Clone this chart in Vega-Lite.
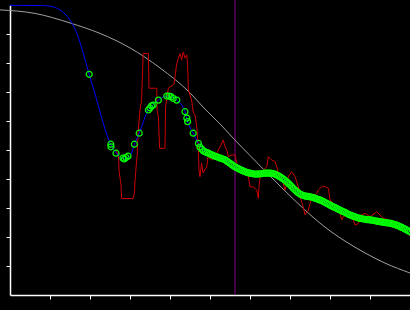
{
  "$schema": "https://vega.github.io/schema/vega-lite/v6.json",
  "width": 400,
  "height": 290,
  "autosize": {"type": "none"},
  "padding": {"left": 10, "top": 5, "right": 0, "bottom": 15},
  "background": "#000000",
  "config": {"view": {"stroke": null}},
  "datasets": {
    "gray": [
      {"x": -0.25, "y": 9.83}, {"x": 0.625, "y": 9.71}, {"x": 1.5, "y": 9.38}, {"x": 2.25, "y": 9.02},
      {"x": 3.0, "y": 8.52}, {"x": 3.75, "y": 7.83}, {"x": 4.5, "y": 6.97}, {"x": 4.875, "y": 6.41},
      {"x": 5.25, "y": 5.9}, {"x": 5.625, "y": 5.34}, {"x": 6.0, "y": 4.81}, {"x": 6.375, "y": 4.28},
      {"x": 6.875, "y": 3.59}, {"x": 7.375, "y": 2.93}, {"x": 7.875, "y": 2.34}, {"x": 8.375, "y": 1.86},
      {"x": 8.875, "y": 1.45}, {"x": 9.375, "y": 1.1}, {"x": 10.0, "y": 0.76}
    ],
    "red": [
      {"x": 2.66, "y": 5.0}, {"x": 2.675, "y": 4.9}, {"x": 2.71, "y": 4.83}, {"x": 2.73, "y": 4.25},
      {"x": 2.775, "y": 3.79}, {"x": 2.79, "y": 3.33}, {"x": 3.08, "y": 3.33}, {"x": 3.11, "y": 3.52},
      {"x": 3.125, "y": 3.91}, {"x": 3.15, "y": 4.38}, {"x": 3.18, "y": 4.83}, {"x": 3.2, "y": 5.59},
      {"x": 3.25, "y": 6.38}, {"x": 3.29, "y": 6.72}, {"x": 3.33, "y": 8.33}, {"x": 3.46, "y": 8.33},
      {"x": 3.475, "y": 7.13}, {"x": 3.67, "y": 7.13}, {"x": 3.675, "y": 6.38}, {"x": 3.71, "y": 6.15},
      {"x": 3.74, "y": 5.06}, {"x": 3.875, "y": 5.06}, {"x": 3.89, "y": 6.49}, {"x": 3.96, "y": 7.14},
      {"x": 4.05, "y": 7.21}, {"x": 4.1, "y": 7.28}, {"x": 4.17, "y": 7.99}, {"x": 4.21, "y": 8.17},
      {"x": 4.25, "y": 8.33}, {"x": 4.29, "y": 8.1}, {"x": 4.33, "y": 8.38}, {"x": 4.375, "y": 8.17},
      {"x": 4.42, "y": 8.28}, {"x": 4.44, "y": 7.9}, {"x": 4.46, "y": 7.07}, {"x": 4.54, "y": 6.72},
      {"x": 4.58, "y": 6.31}, {"x": 4.625, "y": 6.21}, {"x": 4.67, "y": 5.79}, {"x": 4.71, "y": 5.0},
      {"x": 4.725, "y": 4.31}, {"x": 4.75, "y": 4.08}, {"x": 4.79, "y": 4.55}, {"x": 4.825, "y": 4.21},
      {"x": 4.92, "y": 4.42}, {"x": 4.95, "y": 4.77}, {"x": 5.04, "y": 4.66}, {"x": 5.125, "y": 4.77},
      {"x": 5.25, "y": 5.11}, {"x": 5.33, "y": 5.34}, {"x": 5.375, "y": 5.11}, {"x": 5.42, "y": 5.0},
      {"x": 5.46, "y": 4.77}, {"x": 5.54, "y": 4.83}, {"x": 5.625, "y": 4.83}, {"x": 5.67, "y": 4.55},
      {"x": 5.71, "y": 4.42}, {"x": 5.79, "y": 4.31}, {"x": 5.875, "y": 4.2}, {"x": 5.96, "y": 4.08},
      {"x": 6.0, "y": 3.73}, {"x": 6.08, "y": 3.73}, {"x": 6.17, "y": 3.62}, {"x": 6.21, "y": 3.33},
      {"x": 6.225, "y": 3.73}, {"x": 6.25, "y": 4.08}, {"x": 6.33, "y": 4.31}, {"x": 6.42, "y": 4.42},
      {"x": 6.46, "y": 4.77}, {"x": 6.54, "y": 4.66}, {"x": 6.625, "y": 4.6}, {"x": 6.67, "y": 4.42},
      {"x": 6.71, "y": 4.2}, {"x": 6.83, "y": 3.85}, {"x": 6.875, "y": 3.62}, {"x": 6.92, "y": 3.85},
      {"x": 6.96, "y": 4.08}, {"x": 7.04, "y": 4.25}, {"x": 7.125, "y": 4.08}, {"x": 7.21, "y": 3.73},
      {"x": 7.25, "y": 3.39}, {"x": 7.33, "y": 3.04}, {"x": 7.375, "y": 2.76}, {"x": 7.46, "y": 2.93},
      {"x": 7.5, "y": 3.16}, {"x": 7.54, "y": 3.33}, {"x": 7.67, "y": 3.51}, {"x": 7.71, "y": 3.62},
      {"x": 7.79, "y": 3.73}, {"x": 7.83, "y": 3.76}, {"x": 7.96, "y": 3.68}, {"x": 8.0, "y": 3.28},
      {"x": 8.08, "y": 3.16}, {"x": 8.17, "y": 3.04}, {"x": 8.25, "y": 2.82}, {"x": 8.29, "y": 2.59},
      {"x": 8.33, "y": 2.7}, {"x": 8.42, "y": 2.76}, {"x": 8.5, "y": 2.7}, {"x": 8.58, "y": 2.59},
      {"x": 8.625, "y": 2.41}, {"x": 8.71, "y": 2.47}, {"x": 8.75, "y": 2.59}, {"x": 8.79, "y": 2.76},
      {"x": 8.875, "y": 2.82}, {"x": 9.0, "y": 2.7}, {"x": 9.17, "y": 2.87}, {"x": 9.25, "y": 2.76},
      {"x": 9.33, "y": 2.64}, {"x": 9.46, "y": 2.59}, {"x": 9.54, "y": 2.53}, {"x": 9.67, "y": 2.36},
      {"x": 9.79, "y": 2.3}, {"x": 9.92, "y": 2.24}, {"x": 10.0, "y": 2.03}
    ],
    "blue": [
      {"x": 0.0, "y": 9.99}, {"x": 0.79, "y": 9.98}, {"x": 1.0, "y": 9.96}, {"x": 1.25, "y": 9.83},
      {"x": 1.5, "y": 9.48}, {"x": 1.67, "y": 9.03}, {"x": 1.83, "y": 8.34}, {"x": 1.98, "y": 7.61},
      {"x": 2.17, "y": 6.72}, {"x": 2.33, "y": 5.93}, {"x": 2.5, "y": 5.24}, {"x": 2.65, "y": 4.9},
      {"x": 2.85, "y": 4.72}, {"x": 3.0, "y": 4.79}, {"x": 3.11, "y": 5.2}, {"x": 3.23, "y": 5.58},
      {"x": 3.46, "y": 6.38}, {"x": 3.58, "y": 6.55}, {"x": 3.71, "y": 6.72}, {"x": 3.92, "y": 6.86},
      {"x": 4.05, "y": 6.83}, {"x": 4.17, "y": 6.72}, {"x": 4.375, "y": 6.32}, {"x": 4.44, "y": 5.98},
      {"x": 4.58, "y": 5.58}, {"x": 4.71, "y": 5.23}, {"x": 4.875, "y": 4.94}, {"x": 5.125, "y": 4.79},
      {"x": 5.375, "y": 4.66}, {"x": 5.625, "y": 4.42}, {"x": 5.875, "y": 4.25}, {"x": 6.125, "y": 4.17},
      {"x": 6.375, "y": 4.2}, {"x": 6.54, "y": 4.2}, {"x": 6.75, "y": 4.08}, {"x": 6.96, "y": 3.85},
      {"x": 7.125, "y": 3.62}, {"x": 7.29, "y": 3.45}, {"x": 7.5, "y": 3.39}, {"x": 7.75, "y": 3.28},
      {"x": 8.0, "y": 3.1}, {"x": 8.25, "y": 2.93}, {"x": 8.5, "y": 2.76}, {"x": 8.75, "y": 2.64},
      {"x": 9.0, "y": 2.59}, {"x": 9.25, "y": 2.53}, {"x": 9.5, "y": 2.47}, {"x": 9.75, "y": 2.36},
      {"x": 10.0, "y": 2.18}
    ],
    "green": [
      {"x": 1.98, "y": 7.61}, {"x": 2.52, "y": 5.2}, {"x": 2.525, "y": 5.11}, {"x": 2.65, "y": 4.89},
      {"x": 2.825, "y": 4.72}, {"x": 2.86, "y": 4.69}, {"x": 2.9, "y": 4.74}, {"x": 2.95, "y": 4.79},
      {"x": 3.11, "y": 5.2}, {"x": 3.23, "y": 5.58}, {"x": 3.46, "y": 6.38}, {"x": 3.5, "y": 6.45},
      {"x": 3.54, "y": 6.52}, {"x": 3.58, "y": 6.55}, {"x": 3.71, "y": 6.72}, {"x": 3.92, "y": 6.86},
      {"x": 3.975, "y": 6.86}, {"x": 4.025, "y": 6.84}, {"x": 4.08, "y": 6.78}, {"x": 4.17, "y": 6.72},
      {"x": 4.375, "y": 6.32}, {"x": 4.42, "y": 6.1}, {"x": 4.44, "y": 5.98}, {"x": 4.58, "y": 5.58},
      {"x": 4.71, "y": 5.23}, {"x": 4.75, "y": 5.1}, {"x": 4.8, "y": 5.02},
      {"x": 4.84, "y": 4.96}, {"x": 4.88, "y": 4.94}, {"x": 4.92, "y": 4.91}, {"x": 4.96, "y": 4.89},
      {"x": 5.0, "y": 4.86}, {"x": 5.04, "y": 4.84}, {"x": 5.08, "y": 4.81}, {"x": 5.12, "y": 4.79},
      {"x": 5.16, "y": 4.77}, {"x": 5.2, "y": 4.75}, {"x": 5.24, "y": 4.73}, {"x": 5.28, "y": 4.71},
      {"x": 5.32, "y": 4.69}, {"x": 5.36, "y": 4.67}, {"x": 5.4, "y": 4.64}, {"x": 5.44, "y": 4.6},
      {"x": 5.48, "y": 4.56}, {"x": 5.52, "y": 4.52}, {"x": 5.56, "y": 4.48}, {"x": 5.6, "y": 4.44},
      {"x": 5.64, "y": 4.41}, {"x": 5.68, "y": 4.38}, {"x": 5.72, "y": 4.35}, {"x": 5.76, "y": 4.32},
      {"x": 5.8, "y": 4.3}, {"x": 5.84, "y": 4.27}, {"x": 5.88, "y": 4.25}, {"x": 5.92, "y": 4.23},
      {"x": 5.96, "y": 4.21}, {"x": 6.0, "y": 4.2}, {"x": 6.04, "y": 4.19}, {"x": 6.08, "y": 4.18},
      {"x": 6.12, "y": 4.17}, {"x": 6.16, "y": 4.17}, {"x": 6.2, "y": 4.17}, {"x": 6.24, "y": 4.18},
      {"x": 6.28, "y": 4.18}, {"x": 6.32, "y": 4.19}, {"x": 6.36, "y": 4.2}, {"x": 6.4, "y": 4.2},
      {"x": 6.44, "y": 4.2}, {"x": 6.48, "y": 4.2}, {"x": 6.52, "y": 4.2}, {"x": 6.56, "y": 4.19},
      {"x": 6.6, "y": 4.18}, {"x": 6.64, "y": 4.16}, {"x": 6.68, "y": 4.13}, {"x": 6.72, "y": 4.1},
      {"x": 6.76, "y": 4.07}, {"x": 6.8, "y": 4.03}, {"x": 6.84, "y": 3.99}, {"x": 6.88, "y": 3.95},
      {"x": 6.92, "y": 3.9}, {"x": 6.96, "y": 3.85}, {"x": 7.0, "y": 3.8}, {"x": 7.04, "y": 3.74},
      {"x": 7.08, "y": 3.68}, {"x": 7.12, "y": 3.63}, {"x": 7.16, "y": 3.58}, {"x": 7.2, "y": 3.53},
      {"x": 7.24, "y": 3.49}, {"x": 7.28, "y": 3.46}, {"x": 7.32, "y": 3.44}, {"x": 7.36, "y": 3.42},
      {"x": 7.4, "y": 3.41}, {"x": 7.44, "y": 3.4}, {"x": 7.48, "y": 3.39}, {"x": 7.52, "y": 3.38},
      {"x": 7.56, "y": 3.37}, {"x": 7.6, "y": 3.35}, {"x": 7.64, "y": 3.33}, {"x": 7.68, "y": 3.31},
      {"x": 7.72, "y": 3.29}, {"x": 7.76, "y": 3.27}, {"x": 7.8, "y": 3.25}, {"x": 7.84, "y": 3.22},
      {"x": 7.88, "y": 3.19}, {"x": 7.92, "y": 3.16}, {"x": 7.96, "y": 3.13}, {"x": 8.0, "y": 3.1},
      {"x": 8.04, "y": 3.07}, {"x": 8.08, "y": 3.04}, {"x": 8.12, "y": 3.02}, {"x": 8.16, "y": 2.99},
      {"x": 8.2, "y": 2.96}, {"x": 8.24, "y": 2.94}, {"x": 8.28, "y": 2.91}, {"x": 8.32, "y": 2.88},
      {"x": 8.36, "y": 2.86}, {"x": 8.4, "y": 2.83}, {"x": 8.44, "y": 2.8}, {"x": 8.48, "y": 2.77},
      {"x": 8.52, "y": 2.75}, {"x": 8.56, "y": 2.73}, {"x": 8.6, "y": 2.71}, {"x": 8.64, "y": 2.69},
      {"x": 8.68, "y": 2.67}, {"x": 8.72, "y": 2.65}, {"x": 8.76, "y": 2.64}, {"x": 8.8, "y": 2.63},
      {"x": 8.84, "y": 2.62}, {"x": 8.88, "y": 2.61}, {"x": 8.92, "y": 2.6}, {"x": 8.96, "y": 2.6},
      {"x": 9.0, "y": 2.59}, {"x": 9.04, "y": 2.58}, {"x": 9.08, "y": 2.57}, {"x": 9.12, "y": 2.56},
      {"x": 9.16, "y": 2.55}, {"x": 9.2, "y": 2.54}, {"x": 9.24, "y": 2.53}, {"x": 9.28, "y": 2.52},
      {"x": 9.32, "y": 2.51}, {"x": 9.36, "y": 2.5}, {"x": 9.4, "y": 2.49}, {"x": 9.44, "y": 2.49},
      {"x": 9.48, "y": 2.48}, {"x": 9.52, "y": 2.47}, {"x": 9.56, "y": 2.45}, {"x": 9.6, "y": 2.44},
      {"x": 9.64, "y": 2.42}, {"x": 9.68, "y": 2.4}, {"x": 9.72, "y": 2.38}, {"x": 9.76, "y": 2.35},
      {"x": 9.8, "y": 2.33}, {"x": 9.84, "y": 2.3}, {"x": 9.88, "y": 2.27}, {"x": 9.92, "y": 2.24},
      {"x": 9.96, "y": 2.21}, {"x": 10.0, "y": 2.18}
    ],
    "marker": [{"x": 5.625, "y": 10.17, "y2": 0}]
  },
  "encoding": {
    "x": {
      "field": "x", "type": "quantitative",
      "scale": {"domain": [0, 10], "nice": false, "zero": false},
      "axis": {"values": [1, 2, 3, 4, 5, 6, 7, 8, 9], "labels": false, "title": null, "grid": false,
               "domainColor": "#ffffff", "domainWidth": 1.5, "tickColor": "#ffffff", "tickSize": 4, "tickWidth": 1}
    },
    "y": {
      "field": "y", "type": "quantitative",
      "scale": {"domain": [0, 10], "nice": false, "zero": false},
      "axis": {"values": [1, 2, 3, 4, 5, 6, 7, 8, 9], "labels": false, "title": null, "grid": false,
               "domainColor": "#ffffff", "domainWidth": 1.5, "tickColor": "#ffffff", "tickSize": 4, "tickWidth": 1}
    }
  },
  "layer": [
    {"data": {"name": "marker"}, "mark": {"type": "rule", "color": "#8a008a", "strokeWidth": 1},
     "encoding": {"y2": {"field": "y2"}}},
    {"data": {"name": "gray"}, "mark": {"type": "line", "color": "#a0a0a0", "strokeWidth": 1, "interpolate": "monotone"}},
    {"data": {"name": "red"}, "mark": {"type": "line", "color": "#cc0000", "strokeWidth": 1}},
    {"data": {"name": "blue"}, "mark": {"type": "line", "color": "#0000ff", "strokeWidth": 1, "interpolate": "monotone"}},
    {"data": {"name": "green"}, "mark": {"type": "point", "shape": "circle", "filled": false, "color": "#00ff00", "size": 36, "strokeWidth": 1.2, "opacity": 1}}
  ]
}
